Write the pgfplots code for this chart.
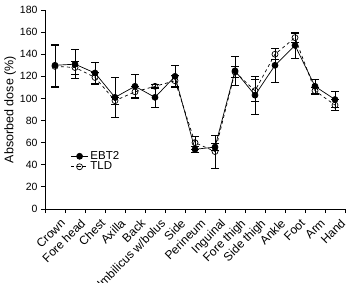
\documentclass[border=0pt]{standalone}
\usepackage{fontspec}
\setmainfont{Liberation Sans}
\usepackage{pgfplots}
\usepackage{pgfplotstable}
\pgfplotsset{compat=1.18}

% site index, mean dose (%), error
\pgfplotstableread{
x  y    e
0  130  19
1  131  13
2  123  10
3  101  18
4  111  11
5  101  9
6  120  10
7  54   3
8  56   3
9  125  13
10 103  17
11 130  15
12 148  12
13 111  6
14 99   7
}\ebt

\pgfplotstableread{
x  y    e
0  129  19
1  128  6
2  119  5
3  98   3
4  106  5
5  111  2
6  116  5
7  60   6
8  52   15
9  124  5
10 107  10
11 140  5
12 155  4
13 107  3
14 94   5
}\tld

\begin{document}
\begin{tikzpicture}
\begin{axis}[
  scale only axis,
  width=300pt, height=199pt,
  /pgf/number format/assume math mode=true,
  y tick label style={font=\fontsize{10.5}{12}\selectfont},
  x tick label style={font=\fontsize{12}{14}\selectfont, rotate=45, anchor=north east,
    inner sep=0pt, yshift=-7pt, xshift=0pt},
  ylabel style={font=\fontsize{12.5}{14}\selectfont, yshift=-3pt},
  xmin=-0.5, xmax=14.5,
  ymin=0, ymax=180,
  ytick={0,20,...,180},
  xtick={0,...,14},
  xticklabels={Crown,Fore head,Chest,Axilla,Back,Umbilicus w/bolus,Side,Perineum,Inguinal,Fore thigh,Side thigh,Ankle,Foot,Arm,Hand},
  major x tick style={draw=none},
  minor xtick={-0.5,0.5,...,14.5},
  minor tick length=4pt,
  major tick length=4pt,
  tick align=outside,
  axis x line*=bottom,
  axis y line*=left,
  axis line style={line width=0.8pt, -},
  tick style={line width=0.8pt, black},
  ylabel={Absorbed dose (\%)},
  legend style={draw=none, fill=none, at={(0.075,0.31)}, anchor=north west,
    row sep=-3pt, font=\fontsize{11.5}{13}\selectfont},
  legend cell align=left,
]
\coordinate (O) at (rel axis cs:0,0);
\addplot[black, line width=0.7pt, mark=*, mark size=3pt,
  mark options={solid, fill=black},
  error bars/.cd, y dir=both, y explicit,
  error bar style={line width=0.7pt, solid}, error mark options={rotate=90, mark size=4pt, line width=0.7pt}]
  table[x=x, y=y, y error=e] {\ebt};
\addlegendentry{EBT2}
\addplot[black, line width=0.7pt, dashed, mark=o, mark size=3pt,
  mark options={solid, fill=white},
  error bars/.cd, y dir=both, y explicit,
  error bar style={line width=0.7pt, solid}, error mark options={rotate=90, mark size=4pt, line width=0.7pt, solid}]
  table[x=x, y=y, y error=e] {\tld};
\addlegendentry{TLD}
\end{axis}
\pgfresetboundingbox
\path[use as bounding box] ([shift={(-45pt,-73pt)}]O) rectangle ([shift={(302pt,209pt)}]O);
\end{tikzpicture}
\end{document}
